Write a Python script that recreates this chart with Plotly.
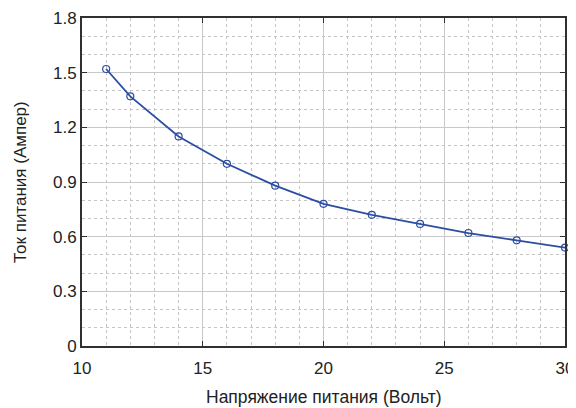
import plotly.graph_objects as go

voltage = [11, 12, 14, 16, 18, 20, 22, 24, 26, 28, 30]
current = [1.52, 1.37, 1.15, 1.00, 0.88, 0.78, 0.72, 0.67, 0.62, 0.58, 0.54]

x_ticks = [10, 15, 20, 25, 30]
y_ticks = [0, 0.3, 0.6, 0.9, 1.2, 1.5, 1.8]
y_ticklabels = ["0", "0.3", "0.6", "0.9", "1.2", "1.5", "1.8"]

x_title = "Напряжение питания (Вольт)"
y_title = "Ток питания (Ампер)"

FONT = "Liberation Sans"
FRAME = "#303030"

fig = go.Figure()
fig.add_trace(go.Scatter(
    x=voltage, y=current, mode="lines+markers",
    line=dict(color="#2b4ea2", width=1.8),
    marker=dict(symbol="circle-open", size=7, color="#2b4ea2", line=dict(width=1.2)),
    cliponaxis=False, showlegend=False,
))

fig.update_xaxes(
    range=[10, 30], tickmode="array", tickvals=x_ticks, automargin=False,
    showline=True, linecolor=FRAME, linewidth=2, mirror="allticks",
    ticks="inside", ticklen=5, tickcolor=FRAME, tickwidth=1.2,
    ticklabelstandoff=6,
    showgrid=True, gridcolor="#c8c8c8", gridwidth=1, zeroline=False,
    minor=dict(dtick=1, showgrid=True, gridcolor="#c4c4c4", griddash="dot", gridwidth=1),
    tickfont=dict(family=FONT, size=17, color="#222222"),
)
fig.update_yaxes(
    range=[0, 1.8], tickmode="array", tickvals=y_ticks, ticktext=y_ticklabels, automargin=False,
    showline=True, linecolor=FRAME, linewidth=2, mirror="allticks",
    ticks="inside", ticklen=5, tickcolor=FRAME, tickwidth=1.2,
    showgrid=True, gridcolor="#c8c8c8", gridwidth=1, zeroline=False,
    minor=dict(dtick=0.1, showgrid=True, gridcolor="#c4c4c4", griddash="dot", gridwidth=1),
    tickfont=dict(family=FONT, size=17, color="#222222"),
)

fig.add_annotation(
    text=x_title, xref="paper", yref="paper", x=0.5, y=0,
    xanchor="center", yanchor="middle", yshift=-51, showarrow=False,
    font=dict(family=FONT, size=17.5, color="#222222"),
)
fig.add_annotation(
    text=y_title, xref="paper", yref="paper", x=0, y=0.5,
    xanchor="center", yanchor="middle", xshift=-62, textangle=-90, showarrow=False,
    font=dict(family=FONT, size=17, color="#222222"),
)

fig.update_layout(
    width=576, height=408,
    margin=dict(l=74, r=19, t=10, b=70),
    plot_bgcolor="white", paper_bgcolor="white",
)

fig.write_html("out.html")
